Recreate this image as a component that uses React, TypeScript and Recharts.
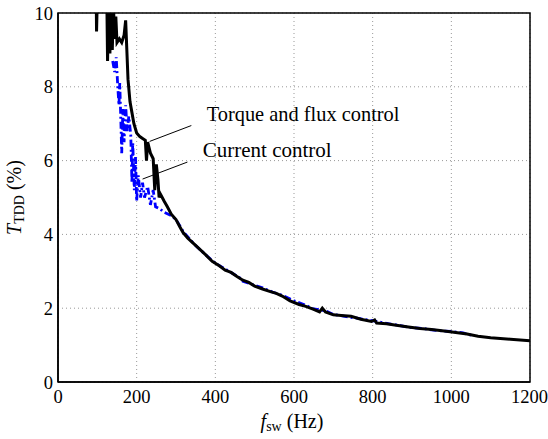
import React from "react";
import {
  LineChart,
  Line,
  XAxis,
  YAxis,
  CartesianGrid,
  ReferenceLine,
  ReferenceArea,
  ReferenceDot,
} from "recharts";

// Torque and flux control (black solid): [f_sw (Hz), T_TDD (%)]
const torqueFluxF = [97, 98, 100, 124, 126, 129, 132, 135, 138, 141, 144, 147, 150, 156, 162, 168, 172, 175, 178, 183, 188, 193, 200, 208, 215, 222, 225, 228, 235, 242, 246, 250, 254, 257, 260, 265, 270, 278, 288, 300, 310, 318, 330, 345, 360, 375, 392, 410, 425, 440, 455, 470, 485, 500, 520, 540, 555, 570, 590, 613, 630, 650, 665, 672, 680, 700, 720, 745, 770, 797, 805, 810, 835, 860, 891, 920, 950, 992, 1040, 1068, 1100, 1150, 1200];
const torqueFluxT = [10.6, 9.5, 10.4, 10.5, 8.7, 10.3, 8.9, 10.4, 9.0, 10.2, 9.3, 9.9, 9.2, 9.3, 9.2, 9.4, 9.8, 9.0, 8.2, 7.6, 7.3, 7.0, 6.75, 6.65, 6.6, 6.55, 6.0, 6.5, 6.2, 6.05, 5.2, 5.9, 5.5, 5.0, 5.1, 5.0, 4.9, 4.75, 4.55, 4.4, 4.2, 4.05, 3.9, 3.75, 3.6, 3.45, 3.27, 3.15, 3.03, 2.97, 2.86, 2.76, 2.7, 2.6, 2.52, 2.45, 2.4, 2.33, 2.2, 2.1, 2.05, 1.97, 1.9, 2.0, 1.9, 1.82, 1.8, 1.78, 1.7, 1.64, 1.68, 1.6, 1.58, 1.54, 1.49, 1.45, 1.42, 1.37, 1.3, 1.24, 1.2, 1.16, 1.12];

// Current control (blue dash-dot)
const currentF = [139, 144, 148, 152, 155, 157, 160, 162, 165, 168, 172, 176, 180, 185, 188, 190, 194, 197, 200, 204, 210, 215, 220, 228, 235, 242, 248, 258, 270, 290, 300, 320, 345, 375, 400, 430, 460, 470, 500, 520, 545, 570, 600, 625, 650, 680, 700, 740, 760, 800, 840, 870, 900, 930, 950, 980, 1000, 1030, 1050];
const currentT = [8.7, 8.4, 8.8, 8.0, 7.5, 8.1, 7.0, 6.2, 7.4, 6.5, 7.5, 6.8, 7.2, 6.7, 5.4, 6.5, 5.2, 6.1, 4.9, 5.6, 5.0, 5.4, 5.0, 5.3, 4.8, 5.2, 4.75, 4.7, 4.6, 4.5, 4.4, 4.05, 3.75, 3.45, 3.22, 3.03, 2.84, 2.73, 2.62, 2.55, 2.44, 2.35, 2.2, 2.1, 1.98, 1.93, 1.83, 1.76, 1.73, 1.66, 1.58, 1.53, 1.47, 1.45, 1.41, 1.38, 1.37, 1.33, 1.27];

const xTicks = [0, 200, 400, 600, 800, 1000, 1200];
const yTicks = [0, 2, 4, 6, 8, 10];

const torqueFluxData = torqueFluxF.map((f, i) => ({ f, t: torqueFluxT[i] }));
const currentData = currentF.map((f, i) => ({ f, t: currentT[i] }));

const FONT = "Liberation Serif";

const XLabel = (props: any) => {
  const vb = props.viewBox || {};
  const cx = vb.x + vb.width / 2 - 2;
  const y = vb.y + 46;
  return (
    <text x={cx} y={y} textAnchor="middle" style={{ fontFamily: FONT }} fontSize={20} fill="#000">
      <tspan fontStyle="italic">f</tspan>
      <tspan fontSize={14} dy={3}>sw</tspan>
      <tspan dy={-3}>{"  (Hz)"}</tspan>
    </text>
  );
};

const YLabel = (props: any) => {
  const vb = props.viewBox || {};
  const cy = vb.y + vb.height / 2;
  const x = 21;
  return (
    <text
      x={x}
      y={cy}
      textAnchor="middle"
      style={{ fontFamily: FONT }}
      fontSize={20}
      fill="#000"
      transform={`rotate(-90, ${x}, ${cy})`}
    >
      <tspan fontStyle="italic">T</tspan>
      <tspan fontSize={14} dy={3}>TDD</tspan>
      <tspan dy={-3}>{"  (%)"}</tspan>
    </text>
  );
};

const TextAt = (value: string, size: number) => (props: any) => {
  const vb = props.viewBox || {};
  return (
    <text x={vb.x} y={vb.y} style={{ fontFamily: FONT }} fontSize={size} fill="#000">
      {value}
    </text>
  );
};

export default function App() {
  return (
    <div style={{ position: "absolute", left: 0, top: 0, background: "#fff", fontFamily: FONT }}>
      <LineChart
        width={548}
        height={439}
        margin={{ top: 13, right: 18, bottom: 0, left: 0 }}
        style={{ fontFamily: FONT }}
      >
        <CartesianGrid
          stroke="#999"
          strokeDasharray="1 3"
          horizontalValues={yTicks}
          verticalValues={xTicks}
        />
        <XAxis
          type="number"
          dataKey="f"
          domain={[0, 1200]}
          ticks={xTicks}
          allowDataOverflow
          height={57}
          tickLine={false}
          tickSize={0}
          tickMargin={8}
          axisLine={{ stroke: "#000", strokeWidth: 1.5 }}
          tick={{ fill: "#000", fontFamily: FONT, fontSize: 18.5, style: { fontFamily: FONT } }}
          label={{ content: XLabel }}
        />
        <YAxis
          type="number"
          dataKey="t"
          domain={[0, 10]}
          ticks={yTicks}
          allowDataOverflow
          width={58}
          tickLine={false}
          tickSize={0}
          tickMargin={5}
          axisLine={{ stroke: "#000", strokeWidth: 1.5 }}
          tick={{ fill: "#000", fontFamily: FONT, fontSize: 18.5, style: { fontFamily: FONT } }}
          label={{ content: YLabel }}
        />
        <ReferenceArea
          x1={0}
          x2={1200}
          y1={0}
          y2={10}
          fill="none"
          stroke="#000"
          strokeWidth={1.5}
          ifOverflow="visible"
        />
        <Line
          data={currentData}
          dataKey="t"
          type="linear"
          stroke="#0000ff"
          strokeWidth={2.8}
          strokeDasharray="7 3 2 3"
          dot={false}
          isAnimationActive={false}
        />
        <Line
          data={torqueFluxData}
          dataKey="t"
          type="linear"
          stroke="#000"
          strokeWidth={3}
          dot={false}
          isAnimationActive={false}
        />
        <ReferenceLine
          segment={[
            { x: 233, y: 6.52 },
            { x: 339, y: 6.95 },
          ]}
          stroke="#000"
          strokeWidth={1}
        />
        <ReferenceLine
          segment={[
            { x: 215, y: 5.5 },
            { x: 329, y: 5.96 },
          ]}
          stroke="#000"
          strokeWidth={1}
        />
        <ReferenceDot
          x={378}
          y={7.08}
          r={0}
          fill="none"
          stroke="none"
          label={{ content: TextAt("Torque and flux control", 20.4) }}
        />
        <ReferenceDot
          x={368}
          y={6.1}
          r={0}
          fill="none"
          stroke="none"
          label={{ content: TextAt("Current control", 21) }}
        />
      </LineChart>
    </div>
  );
}
